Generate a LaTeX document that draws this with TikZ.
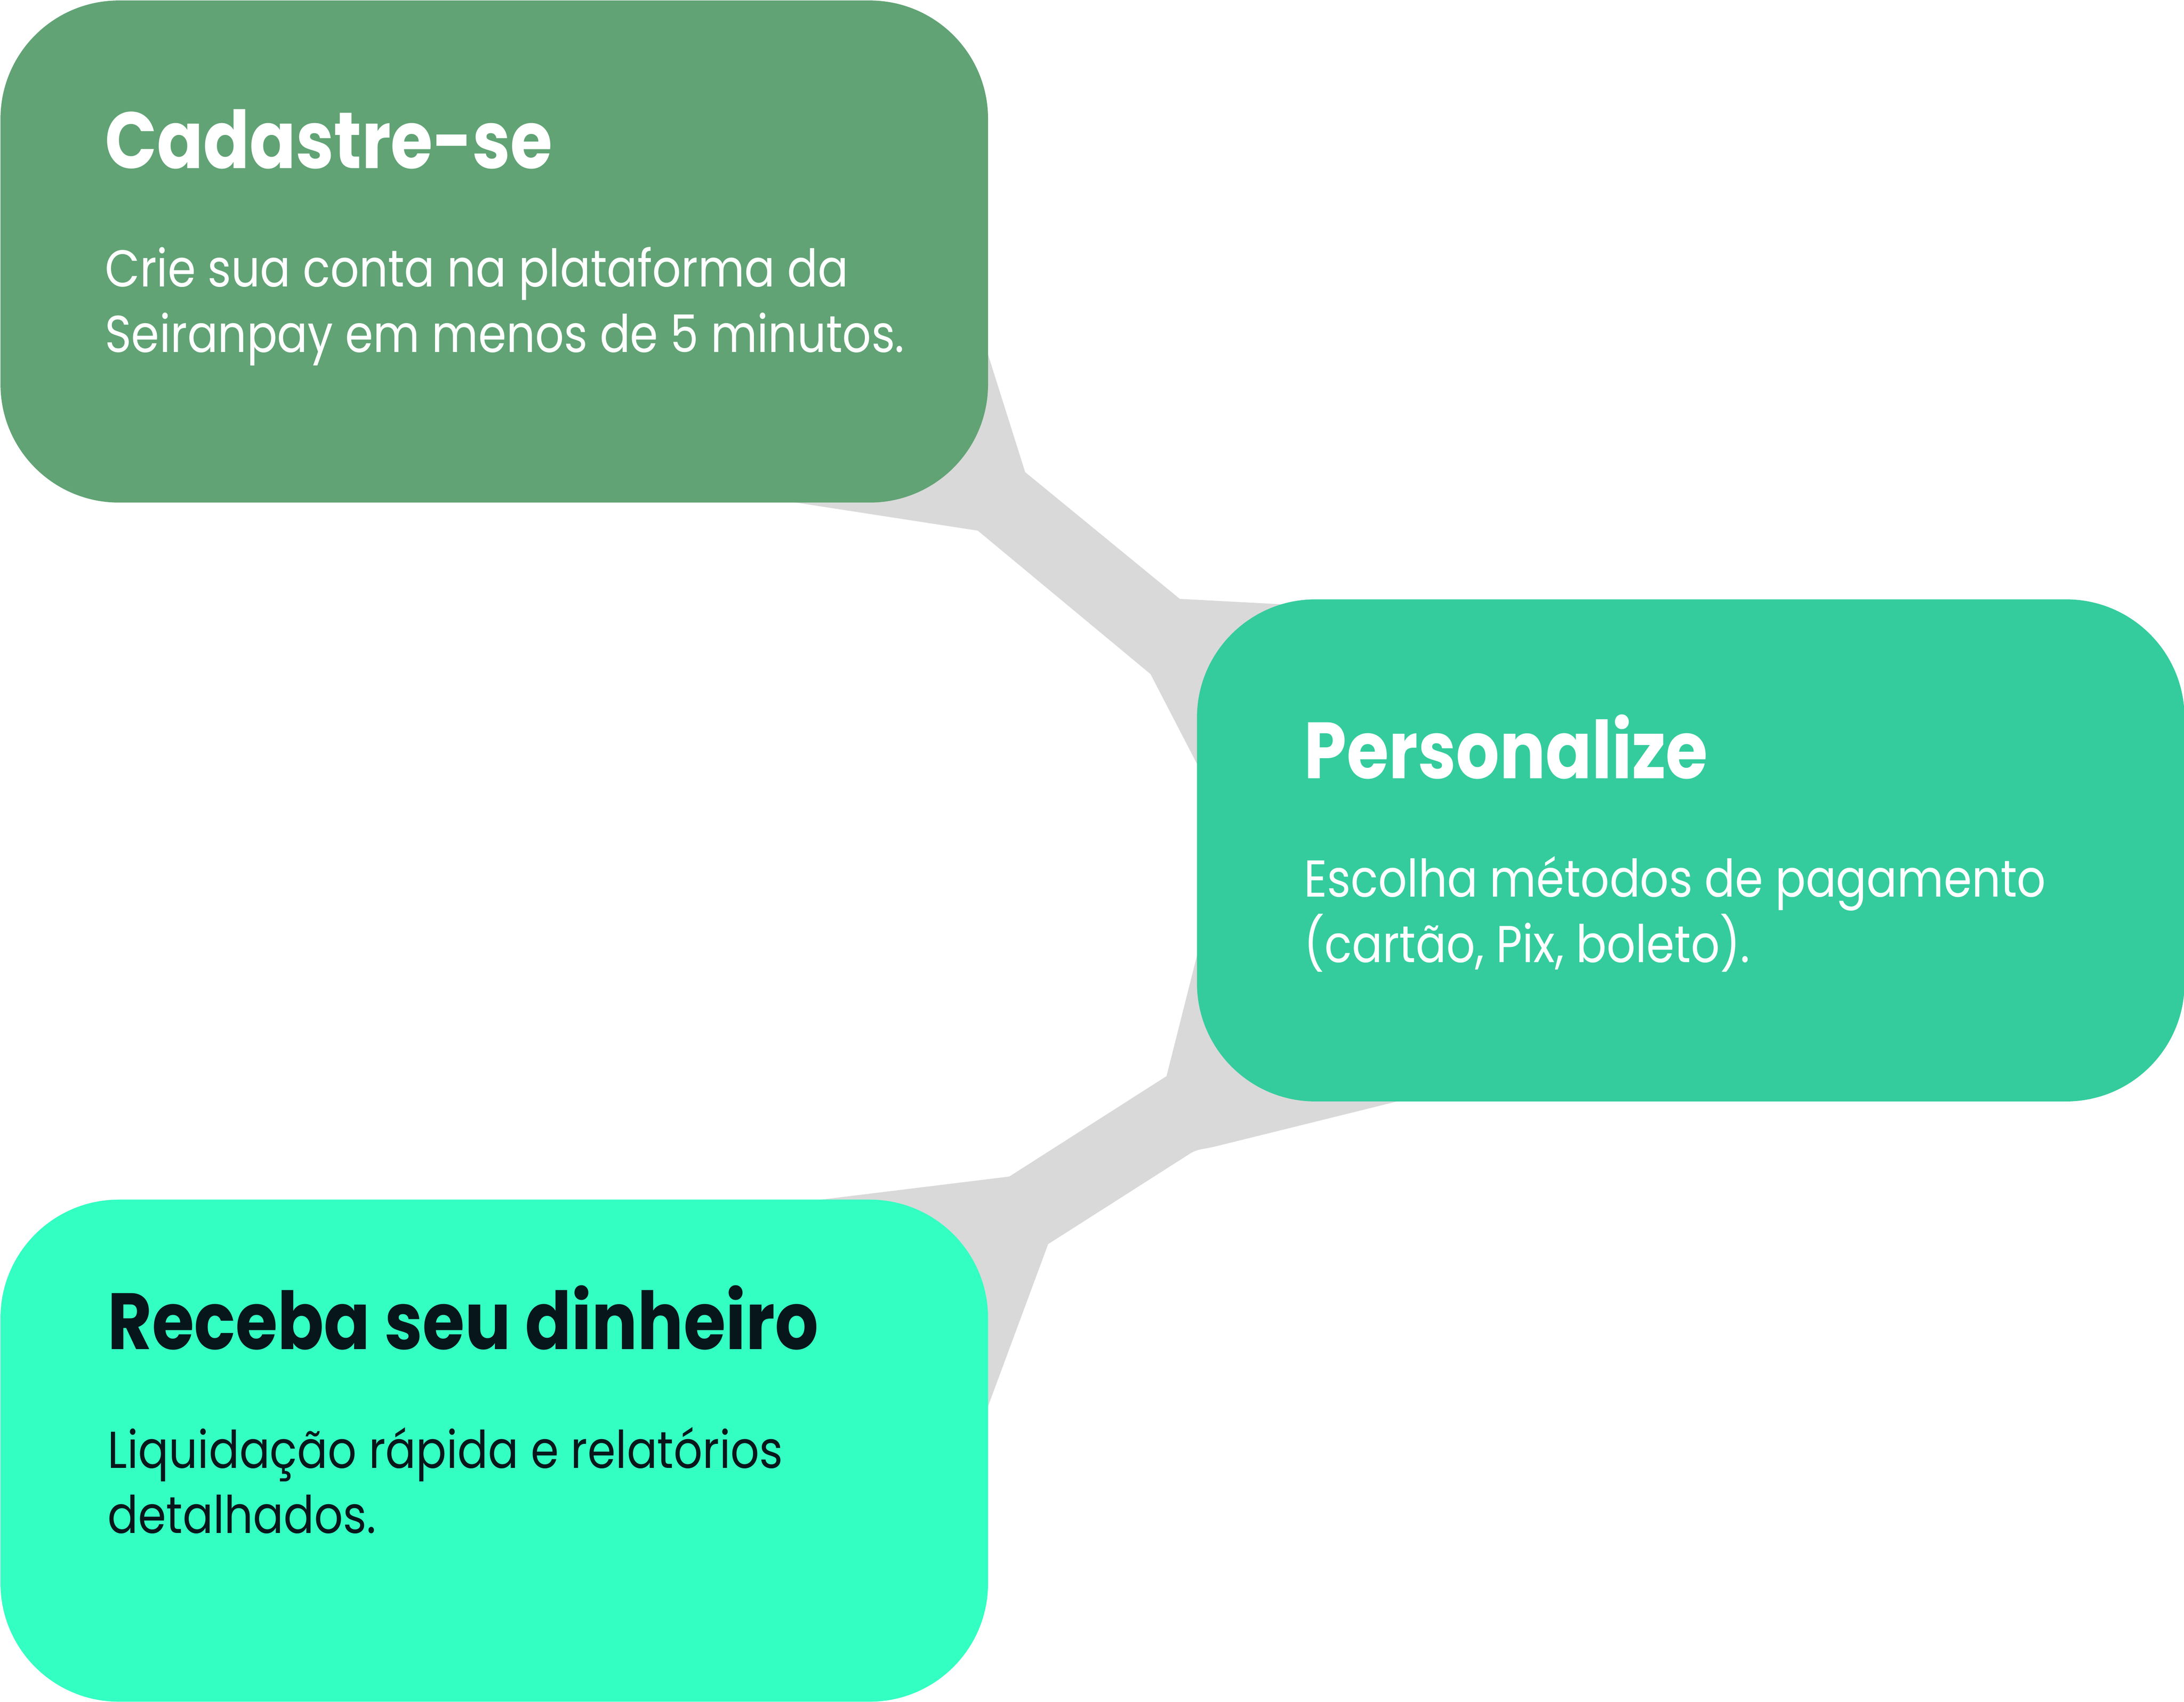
\documentclass[tikz,border=0pt]{standalone}
\usepackage{fontspec}
\setmainfont{Poppins}[FakeStretch=0.87, BoldFeatures={FakeStretch=0.855}]
\usetikzlibrary{positioning}
\definecolor{boxa}{HTML}{61A375}
\definecolor{boxb}{HTML}{34CC9D}
\definecolor{boxc}{HTML}{33FFC2}
\definecolor{band}{HTML}{D9D9D9}
\definecolor{ink}{HTML}{07161B}
\begin{document}
\begin{tikzpicture}[x=0.2mm, y=-0.2mm,
	every node/.style = {inner sep=0pt},
	box/.style = {rectangle, rounded corners=17mm, minimum width=141.8mm, minimum height=72.1mm, anchor=north west},
	head/.style = {anchor=base west, font=\bfseries\fontsize{32.6}{40}\selectfont},
	body/.style = {anchor=base west, align=left, font=\fontsize{21.2}{26.75}\selectfont}]

\useasboundingbox (0,0) rectangle (1568,1222);

% grey bands, drawn first so the boxes cover their ends
\fill[band] (700,225) -- (736,339) -- (847,430) -- (950,435.5) -- (870,569) -- (826,484) -- (702,381) -- (540,356) -- cycle;
\fill[band] (869,648) -- (837.5,772.7) -- (724.6,844.8) -- (560,865) -- (700,1035) -- (752.5,893.3) [rounded corners=0.8mm] -- (858,826) -- (870.5,823.7) [sharp corners] -- (1040,781.7) -- cycle;

\node[box, fill=boxa] (cad) at (0,0) {};
\node[box, fill=boxb] (per) at (859,430) {};
\node[box, fill=boxc] (rec) at (0,861) {};

% base of a two line text is its last line
\node[head, text=white] (cadhead) at ([shift={(75,121)}]cad.north west) {Cadastre-se};
\node[body, text=white] (cadtext) at ([shift={(0,132)}]cadhead.base west) {Crie sua conta na plataforma da\\Seiranpay em menos de 5 minutos.};

\node[head, text=white] (perhead) at ([shift={(77,129)}]per.north west) {Personalize};
\node[body, text=white] (pertext) at ([shift={(0,132)}]perhead.base west) {Escolha métodos de pagamento\\(cartão, Pix, boleto).};

\node[head, text=ink] (rechead) at ([shift={(77,108)}]rec.north west) {Receba seu dinheiro};
\node[body, text=ink] (rectext) at ([shift={(0,132)}]rechead.base west) {Liquidação rápida e relatórios\\detalhados.};
\end{tikzpicture}
\end{document}
